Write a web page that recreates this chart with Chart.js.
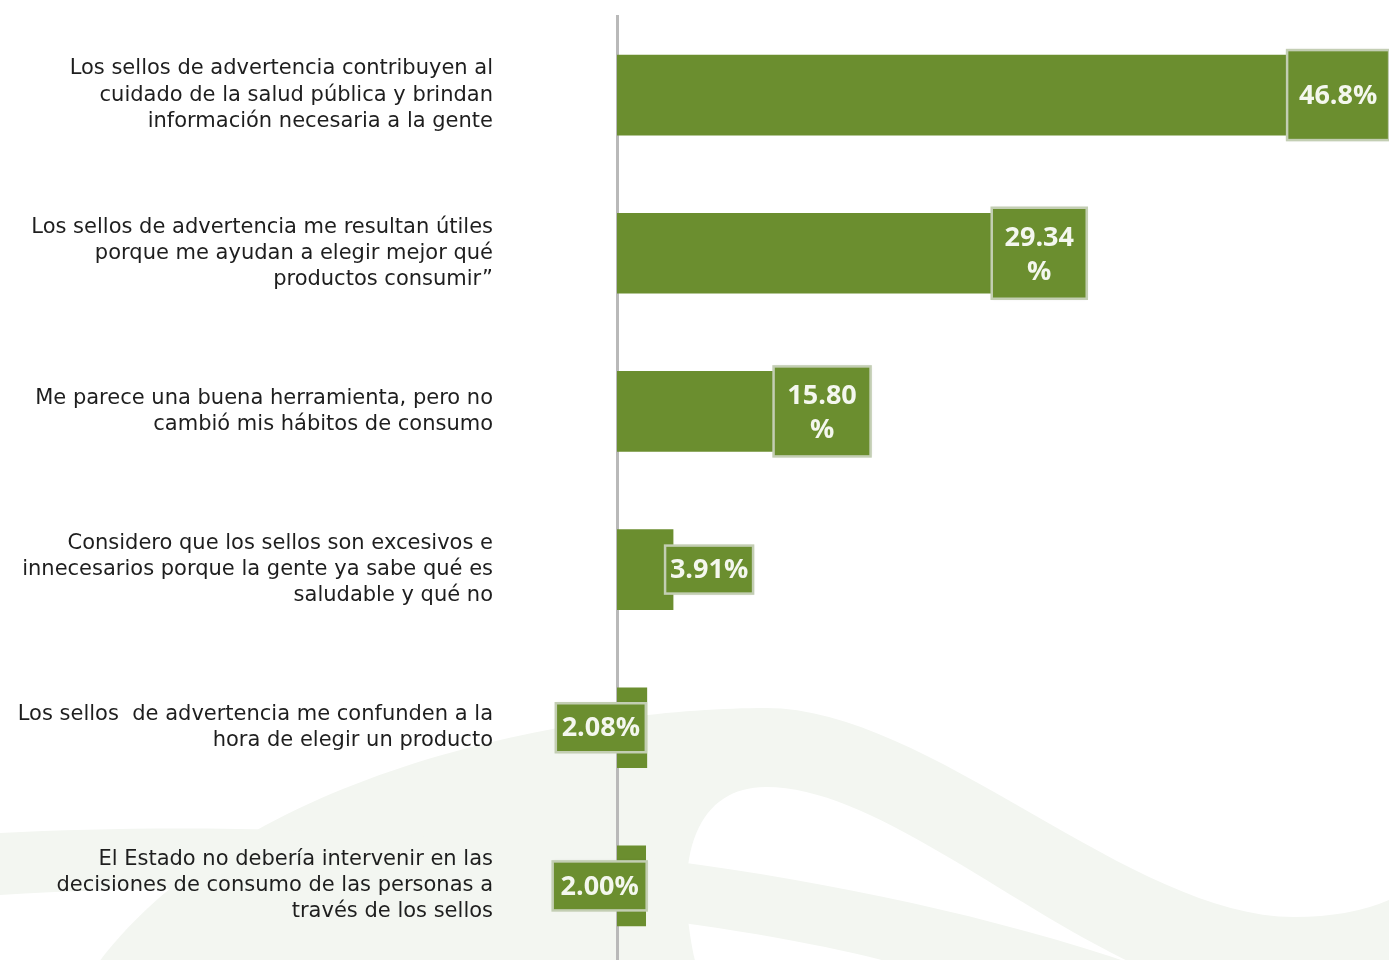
<!DOCTYPE html>
<html lang="es">
<head>
    <meta charset="UTF-8">
    <title>Sellos de advertencia</title>
    <script src="https://cdn.jsdelivr.net/npm/chart.js"></script>
    <style>
        html, body { margin: 0; padding: 0; background: #ffffff; overflow: hidden; }
        #wrap { width: 1389px; height: 965px; position: relative; }
    </style>
</head>
<body>
    <div id="wrap"><canvas id="barChart"></canvas></div>

    <script>
        // Opinion categories (one array per tick, each item is a line)
        const opinions = [
            ['Los sellos de advertencia contribuyen al', 'cuidado de la salud pública y brindan', 'información necesaria a la gente'],
            ['Los sellos de advertencia me resultan útiles', 'porque me ayudan a elegir mejor qué', 'productos consumir”'],
            ['Me parece una buena herramienta, pero no', 'cambió mis hábitos de consumo'],
            ['Considero que los sellos son excesivos e', 'innecesarios porque la gente ya sabe qué es', 'saludable y qué no'],
            ['Los sellos  de advertencia me confunden a la', 'hora de elegir un producto'],
            ['El Estado no debería intervenir en las', 'decisiones de consumo de las personas a', 'través de los sellos']
        ];

        // Share of answers, in percent
        const shares = [46.8, 29.34, 15.80, 3.91, 2.08, 2.00];
        const shareDecimals = [1, 2, 2, 2, 2, 2];

        const GREEN = '#6b8e2f';

        // How each value tag sits around the end of its bar
        const tagLayout = [
            { dx: -1,  w: 102, h: 90, wrap: false },
            { dx: -46, w: 95,  h: 91, wrap: true },
            { dx: -70, w: 97,  h: 90, wrap: true },
            { dx: -8,  w: 88,  h: 48, wrap: false },
            { dx: -91, w: 90,  h: 49, wrap: false },
            { dx: -93, w: 94,  h: 49, wrap: false }
        ];

        // faint leaf shapes behind the chart
        const backdrop = {
            id: 'backdrop',
            beforeDraw(chart) {
                const c = chart.ctx;
                c.save();
                c.fillStyle = '#ffffff';
                c.fillRect(0, 0, chart.width, chart.height);
                c.fillStyle = '#f3f6f1';

                c.beginPath();
                c.moveTo(97, 965);
                c.bezierCurveTo(250, 760, 600, 708, 766, 708);
                c.bezierCurveTo(930, 708, 1130, 917, 1294, 917);
                c.quadraticCurveTo(1350, 917, 1389, 900);
                c.lineTo(1389, 965);
                c.lineTo(1136, 965);
                c.bezierCurveTo(1000, 900, 870, 787, 766, 787);
                c.bezierCurveTo(700, 787, 670, 850, 696, 965);
                c.closePath();
                c.fill();

                c.beginPath();
                c.moveTo(0, 833);
                c.bezierCurveTo(350, 815, 800, 850, 1136, 965);
                c.lineTo(900, 965);
                c.bezierCurveTo(780, 930, 400, 870, 0, 895);
                c.closePath();
                c.fill();
                c.restore();
            }
        };

        // boxed value tags at the bar ends
        const valueTags = {
            id: 'valueTags',
            afterDatasetsDraw(chart) {
                const c = chart.ctx;
                const bars = chart.getDatasetMeta(0).data;
                c.save();
                bars.forEach((bar, i) => {
                    const t = tagLayout[i];
                    const x = bar.x + t.dx;
                    const y = bar.y - t.h / 2;

                    c.shadowColor = 'rgba(0,0,0,0.18)';
                    c.shadowBlur = 3;
                    c.fillStyle = GREEN;
                    c.fillRect(x, y, t.w, t.h);
                    c.shadowColor = 'transparent';
                    c.lineWidth = 2.5;
                    c.strokeStyle = '#c3ceb3';
                    c.strokeRect(x, y, t.w, t.h);

                    const num = shares[i].toFixed(shareDecimals[i]);
                    c.fillStyle = '#f4f7ee';
                    c.font = 'bold 27px "Open Sans"';
                    c.textAlign = 'center';
                    c.textBaseline = 'middle';
                    const cx = x + t.w / 2;
                    if (t.wrap) {
                        c.fillText(num, cx, bar.y - 15);
                        c.fillText('%', cx, bar.y + 19);
                    } else {
                        c.fillText(num + '%', cx, bar.y + 1);
                    }
                });
                c.restore();
            }
        };

        const ctx = document.getElementById('barChart').getContext('2d');

        const data = {
            labels: opinions,
            datasets: [{
                data: shares,
                backgroundColor: GREEN,
                borderWidth: 0,
                barThickness: 80
            }]
        };

        const config = {
            type: 'bar',
            data: data,
            options: {
                indexAxis: 'y',
                responsive: true,
                maintainAspectRatio: false,
                animation: false,
                layout: {
                    padding: { top: 16, bottom: 0, left: 0, right: 55 }
                },
                plugins: {
                    legend: { display: false },
                    tooltip: { enabled: false }
                },
                scales: {
                    x: {
                        display: false,
                        min: 0,
                        max: 50
                    },
                    y: {
                        afterFit(scale) {
                            // fixed gutter for the labels, no extra room above/below
                            scale.width = 617;
                            scale.paddingTop = 0;
                            scale.paddingBottom = 0;
                        },
                        grid: { display: false, drawTicks: false },
                        border: { display: true, color: '#b9b9b9', width: 3 },
                        ticks: {
                            padding: 124,
                            color: '#1e1e1e',
                            font: { family: '"DejaVu Sans"', size: 21, lineHeight: 1.24 }
                        }
                    }
                }
            },
            plugins: [backdrop, valueTags]
        };

        const barChart = new Chart(ctx, config);
    </script>
</body>
</html>
